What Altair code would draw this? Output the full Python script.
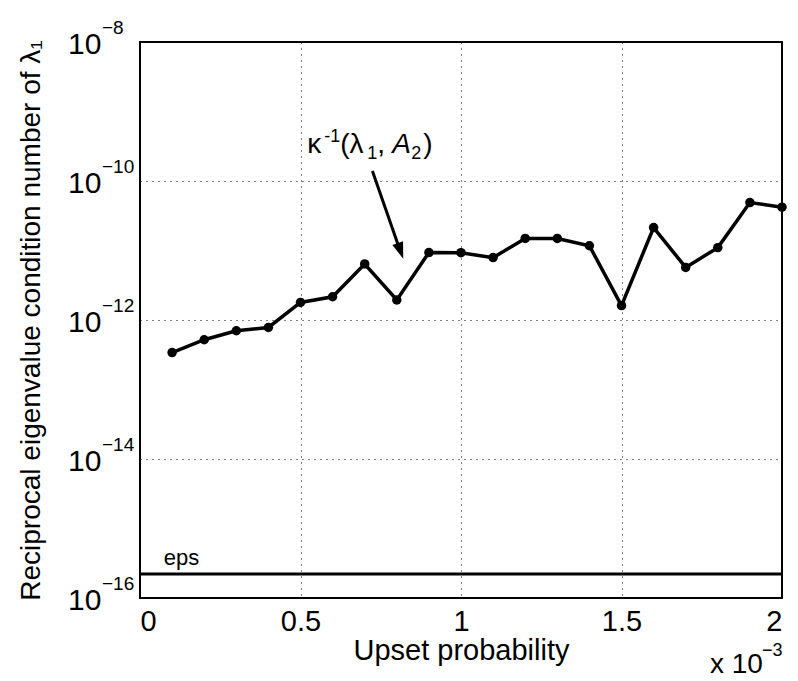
import altair as alt
import pandas as pd

# ---------------- data ----------------
upset_prob = [0.1, 0.2, 0.3, 0.4, 0.5, 0.6, 0.7, 0.8, 0.9, 1.0,
              1.1, 1.2, 1.3, 1.4, 1.5, 1.6, 1.7, 1.8, 1.9, 2.0]          # x 10^-3
kappa_inv = [3.4e-13, 5.2e-13, 7.0e-13, 7.8e-13, 1.79e-12, 2.16e-12, 6.4e-12, 1.94e-12,
             9.35e-12, 9.3e-12, 7.9e-12, 1.49e-11, 1.49e-11, 1.17e-11, 1.61e-12, 2.14e-11,
             5.7e-12, 1.10e-11, 4.9e-11, 4.2e-11]
eps_value = 2.220446049250313e-16
x_tick_values = [0, 0.5, 1, 1.5, 2]
y_tick_exponents = [-16, -14, -12, -10, -8]
x_domain = [0, 2]
y_domain = [1e-16, 1e-8]

eps_label = "eps"
eps_label_at = [0.074, 2.95e-16]
annot_parts = ["κ", "-1", "(λ", "1", ",", "A", "2", ")"]
annot_at = [0.521, 2.5e-10]
arrow_start = [0.724, 1.39e-10]
arrow_shaft_end = [0.8105, 9.9e-12]
arrow_tip = [0.820, 7.6e-12]
x_title = "Upset probability"
y_title = "Reciprocal eigenvalue condition number of λ₁"
x_multiplier = ["x 10", "−3"]

# ---------------- chart ----------------
FONT = "Liberation Sans"
W, H = 642, 556
xs = alt.Scale(domain=x_domain, nice=False, zero=False)
ys = alt.Scale(type="log", domain=y_domain, nice=False)

df = pd.DataFrame({"p": upset_prob, "k": kappa_inv})

grid_kw = dict(grid=True, gridDash=[1, 5], gridColor="black", gridOpacity=1, gridWidth=1,
               ticks=False, domain=False)

x_axis = alt.Axis(values=x_tick_values, format="~g", title=x_title,
                  labelFontSize=29, labelFont=FONT, labelColor="black", labelPadding=9,
                  titleFontSize=29, titleFont=FONT, titleColor="black",
                  titleFontWeight="normal", titlePadding=0, **grid_kw)
y_axis = alt.Axis(values=[10.0 ** e for e in y_tick_exponents], labels=False, title=y_title,
                  titleFontSize=28, titleFont=FONT, titleColor="black",
                  titleFontWeight="normal", titlePadding=95, **grid_kw)


def X(f="p:Q"):
    return alt.X(f, scale=xs, axis=x_axis)


def Y(f="k:Q"):
    return alt.Y(f, scale=ys, axis=y_axis)


line = alt.Chart(df).mark_line(color="black", strokeWidth=3.5).encode(x=X(), y=Y())
pts = alt.Chart(df).mark_circle(color="black", size=90, opacity=1).encode(x=X(), y=Y())

# eps line
eps_df = pd.DataFrame({"p": [x_domain[0]], "p2": [x_domain[1]], "k": [eps_value]})
eps_rule = alt.Chart(eps_df).mark_rule(color="black", strokeWidth=3).encode(
    x=X(), x2="p2:Q", y=Y())
eps_txt_df = pd.DataFrame({"p": [eps_label_at[0]], "k": [eps_label_at[1]], "t": [eps_label]})
eps_txt = alt.Chart(eps_txt_df).mark_text(align="left", baseline="alphabetic", fontSize=22,
                                          font=FONT, color="black").encode(
    x=X(), y=Y(), text="t:N")

# y tick labels 10^e
ylab_df = pd.DataFrame({"k": [10.0 ** e for e in y_tick_exponents],
                        "b": ["10"] * len(y_tick_exponents),
                        "e": ["−" + str(abs(e)) for e in y_tick_exponents]})
ylab_base = alt.Chart(ylab_df).mark_text(align="left", baseline="alphabetic", fontSize=30,
                                         font=FONT, color="black", dy=12).encode(
    x=alt.value(-72), y=Y(), text="b:N")
ylab_exp = alt.Chart(ylab_df).mark_text(align="left", baseline="alphabetic", fontSize=19,
                                        font=FONT, color="black", dy=-8).encode(
    x=alt.value(-38), y=Y(), text="e:N")

# x multiplier  "x 10^-3"
mult_df = pd.DataFrame({"b": [x_multiplier[0]], "e": [x_multiplier[1]]})
mult_base = alt.Chart(mult_df).mark_text(align="left", baseline="alphabetic", fontSize=28,
                                         font=FONT, color="black").encode(
    x=alt.value(W - 72), y=alt.value(H + 75), text="b:N")
mult_exp = alt.Chart(mult_df).mark_text(align="left", baseline="alphabetic", fontSize=18,
                                        font=FONT, color="black").encode(
    x=alt.value(W - 20), y=alt.value(H + 58), text="e:N")

# annotation  kappa^-1(lambda_1, A_2)
ann_df = pd.DataFrame({"p": [annot_at[0]], "k": [annot_at[1]]})
piece_style = [  # dx, dy, size, italic
    (0, 0, 28, False), (17, -11, 18, False), (33, 0, 28, False), (60, 6, 18, False),
    (70, 0, 28, False), (85, 0, 28, True), (104, 6, 18, False), (116, 0, 28, False)]
ann_layers = []
for txt, (dx, dy, fs, it) in zip(annot_parts, piece_style):
    ann_layers.append(
        alt.Chart(ann_df).mark_text(align="left", baseline="alphabetic", fontSize=fs, font=FONT,
                                    fontStyle="italic" if it else "normal", color="black",
                                    dx=dx, dy=dy).encode(x=X(), y=Y(), text=alt.value(txt)))

# arrow
arr_df = pd.DataFrame({"p": [arrow_start[0]], "k": [arrow_start[1]],
                       "p2": [arrow_shaft_end[0]], "k2": [arrow_shaft_end[1]]})
shaft = alt.Chart(arr_df).mark_rule(color="black", strokeWidth=3).encode(
    x=X(), y=Y(), x2="p2:Q", y2="k2:Q")
tip_df = pd.DataFrame({"p": [arrow_tip[0]], "k": [arrow_tip[1]]})
head = alt.Chart(tip_df).mark_point(shape="M0,0L-0.34,-1L0.34,-1Z", filled=True, size=1100,
                                    angle=340.7, color="black", opacity=1).encode(x=X(), y=Y())

chart = alt.layer(line, pts, eps_rule, eps_txt, ylab_base, ylab_exp, mult_base, mult_exp,
                  *ann_layers, shaft, head).properties(
    width=W, height=H,
    background="white",
    autosize=alt.AutoSizeParams(type="none"),
    padding={"left": 132, "top": 34, "right": 8, "bottom": 83},
).configure_view(stroke="black", strokeWidth=2)

chart.save("out.html", embed_options={"renderer": "svg", "actions": False})
